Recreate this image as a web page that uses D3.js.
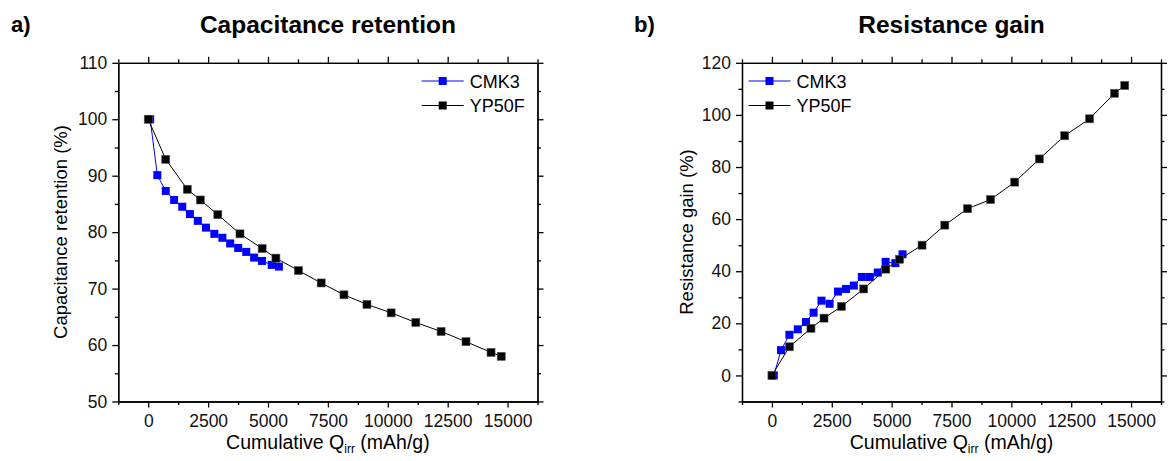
<!DOCTYPE html>
<html>
<head>
<meta charset="utf-8">
<script src="https://cdn.jsdelivr.net/npm/d3@7"></script>
<style>
	body { margin: 0; background: #fff; }
	svg { display: block; font-family: "Liberation Sans", Arial, sans-serif; }
	.axis path, .axis line { stroke: #000; stroke-width: 1.3; }
	.axis text { font-size: 17.5px; fill: #111; }
</style>
</head>
<body>
<div id="chart"></div>
<script>
// cumulative irreversible capacity (mAh/g)
var cmk3Q = [80, 380, 730, 1080, 1420, 1740, 2070, 2410, 2760, 3095, 3420, 3755, 4090, 4420, 4750, 5155, 5455];
var yp50fQ = [0, 730, 1630, 2175, 2905, 3830, 4755, 5330, 6270, 7220, 8170, 9130, 10140, 11170, 12225, 13265, 14310, 14735];

// capacitance retention (%)
var cmk3Cap = [100, 90.1, 87.3, 85.7, 84.5, 83.2, 82.0, 80.8, 79.7, 79.0, 78.0, 77.2, 76.5, 75.5, 74.9, 74.2, 73.9];
var yp50fCap = [100, 92.9, 87.6, 85.7, 83.1, 79.7, 77.1, 75.4, 73.2, 71.0, 68.9, 67.2, 65.7, 64.0, 62.4, 60.6, 58.7, 58.0];

// resistance gain (%)
var cmk3Res = [0, 9.7, 15.6, 17.7, 20.5, 24.1, 28.7, 27.5, 32.2, 33.2, 34.5, 37.8, 37.8, 39.5, 43.6, 43.1, 46.5];
var yp50fRes = [0, 11.0, 18.1, 22.0, 26.5, 33.2, 40.8, 44.6, 50.0, 57.7, 64.0, 67.5, 74.2, 83.1, 92.0, 98.5, 108.3, 111.3];

var xTicks = [0, 2500, 5000, 7500, 10000, 12500, 15000];
var capTicks = [50, 60, 70, 80, 90, 100, 110];
var resTicks = [0, 20, 40, 60, 80, 100, 120];
var seriesNames = ["CMK3", "YP50F"];
var seriesColors = ["#0000ff", "#000000"];

var width = 1169,
	height = 461;

var svg = d3.select("#chart").append("svg")
	.attr("width", width)
	.attr("height", height);

function zip(xs, ys) {
	return xs.map(function(x, i) { return {x: x, y: ys[i]}; });
}

function panel(opts) {
	var x = d3.scaleLinear().domain([-1250, 16250]).range([opts.left, opts.right]);
	var y = d3.scaleLinear().domain(opts.yDomain).range([401.5, 62.8]);

	var g = svg.append("g");

	// minor ticks first, then the major axes on top
	var xMinor = d3.range(-1250, 16251, 1250).filter(function(v) { return v % 2500 !== 0; });
	var yMinor = d3.range(opts.yDomain[0], opts.yDomain[1] + 0.001, opts.yMinorStep)
		.filter(function(v) { return opts.yTicks.indexOf(v) < 0; });

	g.append("g").attr("class", "axis")
		.attr("transform", "translate(0," + y.range()[0] + ")")
		.call(d3.axisBottom(x).tickValues(xMinor).tickSize(3.5).tickSizeOuter(0).tickFormat(""));
	g.append("g").attr("class", "axis")
		.attr("transform", "translate(0," + y.range()[1] + ")")
		.call(d3.axisTop(x).tickValues(xMinor).tickSize(3.5).tickSizeOuter(0).tickFormat(""));
	g.append("g").attr("class", "axis")
		.attr("transform", "translate(" + x.range()[0] + ",0)")
		.call(d3.axisLeft(y).tickValues(yMinor).tickSize(3.5).tickSizeOuter(0).tickFormat(""));
	g.append("g").attr("class", "axis")
		.attr("transform", "translate(" + x.range()[1] + ",0)")
		.call(d3.axisRight(y).tickValues(yMinor).tickSize(3.5).tickSizeOuter(0).tickFormat(""));

	g.append("g").attr("class", "axis")
		.attr("transform", "translate(0," + y.range()[0] + ")")
		.call(d3.axisBottom(x).tickValues(xTicks).tickSize(6).tickPadding(7).tickSizeOuter(0).tickFormat(d3.format("d")));
	g.append("g").attr("class", "axis")
		.attr("transform", "translate(0," + y.range()[1] + ")")
		.call(d3.axisTop(x).tickValues(xTicks).tickSize(6).tickSizeOuter(0).tickFormat(""));
	g.append("g").attr("class", "axis")
		.attr("transform", "translate(" + x.range()[0] + ",0)")
		.call(d3.axisLeft(y).tickValues(opts.yTicks).tickSize(6).tickPadding(5).tickSizeOuter(0).tickFormat(d3.format("d")));
	g.append("g").attr("class", "axis")
		.attr("transform", "translate(" + x.range()[1] + ",0)")
		.call(d3.axisRight(y).tickValues(opts.yTicks).tickSize(6).tickSizeOuter(0).tickFormat(""));

	var line = d3.line()
		.x(function(d) { return x(d.x); })
		.y(function(d) { return y(d.y); });

	opts.series.forEach(function(s, i) {
		g.append("path")
			.datum(s)
			.attr("d", line)
			.attr("fill", "none")
			.attr("stroke", seriesColors[i])
			.attr("stroke-width", 1);

		g.selectAll("rect.m" + i)
			.data(s)
			.enter()
			.append("rect")
			.attr("class", "m" + i)
			.attr("x", function(d) { return x(d.x) - 4; })
			.attr("y", function(d) { return y(d.y) - 4; })
			.attr("width", 8)
			.attr("height", 8)
			.attr("fill", seriesColors[i])
			.attr("stroke", i ? "#555" : "none")
			.attr("stroke-width", 0.6);
	});

	// legend
	seriesNames.forEach(function(name, i) {
		var ly = 81 + i * 24.5;
		var lg = g.append("g");
		lg.append("line")
			.attr("x1", opts.legendX - 21).attr("x2", opts.legendX + 21)
			.attr("y1", ly).attr("y2", ly)
			.attr("stroke", seriesColors[i]).attr("stroke-width", 1);
		lg.append("rect")
			.attr("x", opts.legendX - 4).attr("y", ly - 4)
			.attr("width", 8).attr("height", 8)
			.attr("fill", seriesColors[i]);
		lg.append("text")
			.attr("x", opts.legendX + 27).attr("y", ly + 6.5)
			.attr("font-size", 18)
			.text(name);
	});

	var cx = (opts.left + opts.right) / 2;

	g.append("text")
		.attr("x", cx).attr("y", 33)
		.attr("text-anchor", "middle")
		.attr("font-size", 24.5)
		.attr("font-weight", "bold")
		.text(opts.title);

	g.append("text")
		.attr("x", opts.tagX).attr("y", 32)
		.attr("font-size", 22)
		.attr("font-weight", "bold")
		.text(opts.tag);

	var xl = g.append("text")
		.attr("x", cx).attr("y", 449)
		.attr("text-anchor", "middle")
		.attr("font-size", 19.5);
	xl.append("tspan").text("Cumulative Q");
	xl.append("tspan").attr("font-size", 12).attr("dy", 4).text("irr");
	xl.append("tspan").attr("dy", -4).text(" (mAh/g)");

	g.append("text")
		.attr("transform", "translate(" + opts.yLabelX + ",232) rotate(-90)")
		.attr("text-anchor", "middle")
		.attr("font-size", 18.5)
		.text(opts.yLabel);
}

panel({
	left: 118.3, right: 537.5,
	yDomain: [50, 110], yTicks: capTicks, yMinorStep: 5,
	series: [zip(cmk3Q, cmk3Cap), zip(yp50fQ, yp50fCap)],
	legendX: 442.7,
	title: "Capacitance retention", tag: "a)", tagX: 11,
	yLabel: "Capacitance retention (%)", yLabelX: 67
});

panel({
	left: 742, right: 1161,
	yDomain: [-10, 120], yTicks: resTicks, yMinorStep: 10,
	series: [zip(cmk3Q, cmk3Res), zip(yp50fQ, yp50fRes)],
	legendX: 769.5,
	title: "Resistance gain", tag: "b)", tagX: 634,
	yLabel: "Resistance gain (%)", yLabelX: 693
});
</script>
</body>
</html>
